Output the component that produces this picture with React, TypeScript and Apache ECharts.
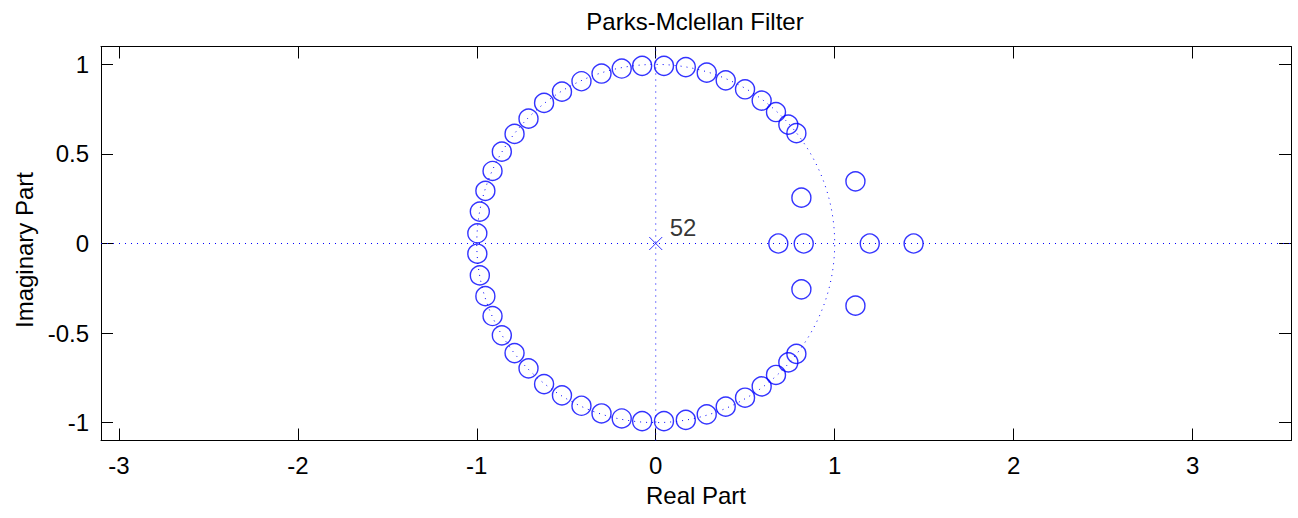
import React, { useEffect, useRef } from "react";
import * as echarts from "echarts";

// Zeros on (or very near) the unit circle, upper half-plane
const upperZeroRe = [
  -0.997, -0.983, -0.952, -0.912, -0.86, -0.789, -0.711, -0.624, -0.524, -0.415, -0.303,
  -0.19, -0.076, 0.046, 0.168, 0.285, 0.391, 0.499, 0.592, 0.672, 0.741, 0.786,
];
const upperZeroIm = [
  0.057, 0.178, 0.294, 0.405, 0.513, 0.612, 0.697, 0.785, 0.848, 0.906, 0.949,
  0.977, 0.992, 0.992, 0.985, 0.954, 0.911, 0.861, 0.798, 0.734, 0.664, 0.616,
];
// Zeros on the unit circle, lower half-plane
const lowerZeroRe = [
  -0.997, -0.983, -0.952, -0.912, -0.86, -0.789, -0.711, -0.624, -0.524, -0.415, -0.303,
  -0.19, -0.076, 0.046, 0.168, 0.285, 0.391, 0.499, 0.592, 0.672, 0.741, 0.786,
];
const lowerZeroIm = [
  -0.057, -0.178, -0.294, -0.405, -0.513, -0.612, -0.697, -0.785, -0.848, -0.906, -0.949,
  -0.977, -0.992, -0.992, -0.985, -0.954, -0.911, -0.861, -0.798, -0.734, -0.664, -0.616,
];
// Zeros off the unit circle (reciprocal pairs / quads)
const offZeroRe = [0.685, 0.827, 1.196, 1.441, 0.814, 0.814, 1.116, 1.116];
const offZeroIm = [0, 0, 0, 0, 0.256, -0.256, 0.347, -0.347];

// Poles: all at the origin
const poleRe = [0];
const poleIm = [0];
const poleMultiplicity = 52;

// Axis limits and ticks
const xLimits = [-3.1, 3.55];
const yLimits = [-1.1, 1.1];
const xTicks = [-3, -2, -1, 0, 1, 2, 3];
const yTicks = [-1, -0.5, 0, 0.5, 1];

const FONT = "'Liberation Sans', Arial, Helvetica, sans-serif";
const BLUE = "#0000ff";
const FS = 24;

function zip(re: number[], im: number[]): number[][] {
  return re.map((r, i) => [r, im[i]]);
}

export default function App() {
  const ref = useRef<HTMLDivElement>(null);

  useEffect(() => {
    if (!ref.current) return;
    const chart = echarts.init(ref.current, undefined, { renderer: "svg" });

    const zeros = [
      ...zip(upperZeroRe, upperZeroIm),
      ...zip(lowerZeroRe, lowerZeroIm),
      ...zip(offZeroRe, offZeroIm),
    ];

    const tickCommon = { inside: true, length: 12, lineStyle: { color: "#000", width: 1 } };
    const lineCommon = { show: true, onZero: false, lineStyle: { color: "#000", width: 1 } };
    const labelStyle = { color: "#000", fontFamily: FONT, fontSize: FS };

    const option: any = {
      animation: false,
      backgroundColor: "#fff",
      title: {
        text: "Parks-Mclellan Filter",
        left: 690,
        top: 4,
        textAlign: "center",
        textStyle: { color: "#000", fontFamily: FONT, fontSize: FS, fontWeight: "normal" },
      },
      grid: { left: 101, top: 46.5, right: 7, height: 394, containLabel: false },
      xAxis: [
        {
          type: "value",
          min: xLimits[0],
          max: xLimits[1],
          position: "bottom",
          axisLine: lineCommon,
          axisTick: { ...tickCommon, customValues: xTicks },
          axisLabel: { ...labelStyle, margin: 13, customValues: xTicks },
          splitLine: { show: false },
          name: "Real Part",
          nameLocation: "middle",
          nameGap: 43,
          nameTextStyle: { ...labelStyle },
        },
        {
          type: "value",
          min: xLimits[0],
          max: xLimits[1],
          position: "top",
          axisLine: lineCommon,
          axisTick: { ...tickCommon, customValues: xTicks },
          axisLabel: { show: false },
          splitLine: { show: false },
        },
      ],
      yAxis: [
        {
          type: "value",
          min: yLimits[0],
          max: yLimits[1],
          position: "left",
          axisLine: lineCommon,
          axisTick: { ...tickCommon, customValues: yTicks },
          axisLabel: { ...labelStyle, margin: 12, customValues: yTicks },
          splitLine: { show: false },
          name: "Imaginary Part",
          nameLocation: "middle",
          nameGap: 62,
          nameRotate: 90,
          nameTextStyle: { ...labelStyle, padding: [0, 13, 0, 0] },
        },
        {
          type: "value",
          min: yLimits[0],
          max: yLimits[1],
          position: "right",
          axisLine: lineCommon,
          axisTick: { ...tickCommon, customValues: yTicks },
          axisLabel: { show: false },
          splitLine: { show: false },
        },
      ],
      series: [
        // Unit circle, dotted
        {
          type: "custom",
          silent: true,
          z: 1,
          data: [[0, 0]],
          renderItem: (_params: any, api: any) => {
            const c = api.coord([0, 0]);
            const s = api.size([1, 1]);
            return {
              type: "ellipse",
              shape: { cx: c[0], cy: c[1], rx: s[0], ry: s[1] },
              style: { fill: "none", stroke: BLUE, lineWidth: 1, lineDash: [1, 5] },
            };
          },
        },
        // Real axis, dotted
        {
          type: "line",
          silent: true,
          z: 1,
          symbol: "none",
          data: [
            [xLimits[0], 0],
            [xLimits[1], 0],
          ],
          lineStyle: { color: BLUE, width: 1, type: [1, 5] },
        },
        // Imaginary axis, dotted
        {
          type: "line",
          silent: true,
          z: 1,
          symbol: "none",
          data: [
            [0, yLimits[0]],
            [0, yLimits[1]],
          ],
          lineStyle: { color: BLUE, width: 1, type: [1, 5] },
        },
        // Zeros
        {
          type: "scatter",
          z: 3,
          symbol: "circle",
          symbolSize: 19,
          data: zeros,
          itemStyle: { color: "rgba(0,0,0,0)", borderColor: BLUE, borderWidth: 1.4 },
        },
        // Poles
        {
          type: "scatter",
          z: 3,
          symbol: "path://M0,0L10,10M10,0L0,10",
          symbolSize: 13,
          data: zip(poleRe, poleIm),
          itemStyle: { color: "rgba(0,0,0,0)", borderColor: BLUE, borderWidth: 1 },
          label: {
            show: true,
            formatter: String(poleMultiplicity),
            position: [21, -21],
            align: "left",
            verticalAlign: "top",
            color: "#000",
            fontFamily: FONT,
            fontSize: FS,
          },
        },
      ],
    };

    chart.setOption(option);
    return () => chart.dispose();
  }, []);

  return (
    <div
      ref={ref}
      style={{ position: "absolute", left: 0, top: 0, width: 1298, height: 518 }}
    />
  );
}
